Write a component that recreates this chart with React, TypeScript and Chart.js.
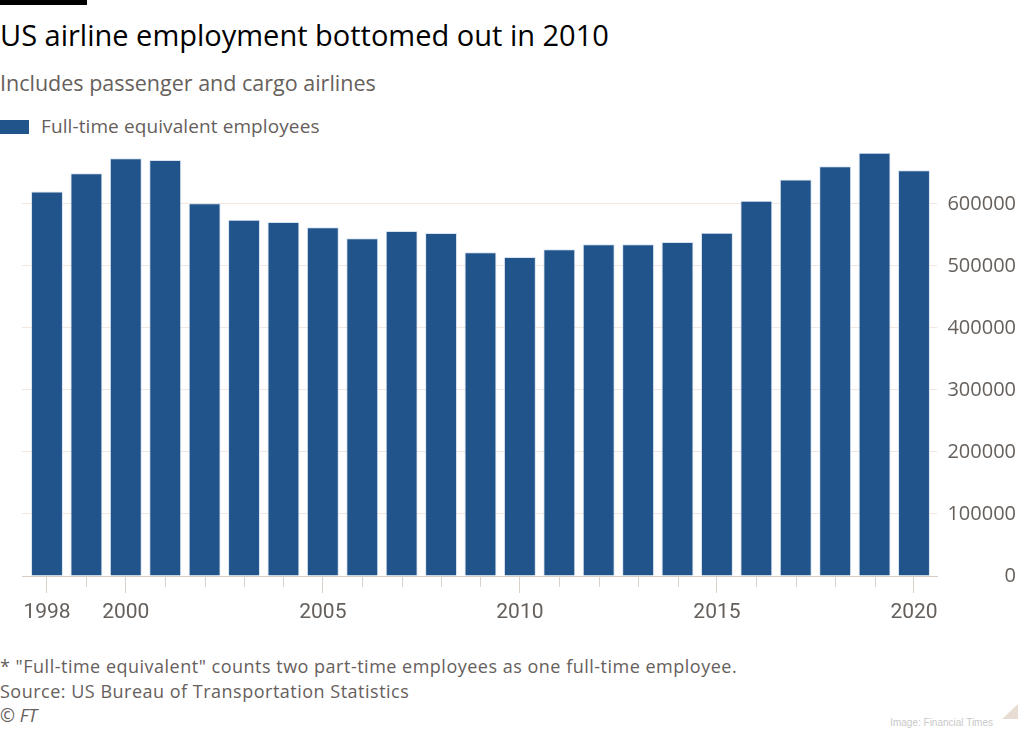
import React, { useEffect, useRef } from "react";
import { Chart, registerables } from "chart.js";

Chart.register(...registerables);

// ---- Data ----
const years = [
  1998, 1999, 2000, 2001, 2002, 2003, 2004, 2005, 2006, 2007, 2008, 2009,
  2010, 2011, 2012, 2013, 2014, 2015, 2016, 2017, 2018, 2019, 2020,
];
const employees = [
  619900, 649300, 673400, 670600, 601100, 574300, 570600, 562100, 544500,
  556200, 553000, 522000, 514400, 526800, 534800, 534800, 538500, 553500,
  604800, 639200, 660500, 682500, 654100,
];
const labeledYears = [1998, 2000, 2005, 2010, 2015, 2020];
const yTicks = [0, 100000, 200000, 300000, 400000, 500000, 600000];

const seriesLabel = "Full-time equivalent employees";
const titleText = "US airline employment bottomed out in 2010";
const subtitleText = "Includes passenger and cargo airlines";
const noteText =
  '* "Full-time equivalent" counts two part-time employees as one full-time employee.';
const sourceText = "Source: US Bureau of Transportation Statistics";

// ---- Styles ----
const BAR = "#20548b";
const TEXT = "#66605c";
const GRID = "#efe7e0";
const BASE = "#d8cdc3";
const TICK = "#d9d2cb";
const Y_FONT = { family: "Open Sans", size: 20 };

const minorTicks = {
  id: "minorTicks",
  afterDraw(chart: any) {
    const s = chart.scales.x;
    const ctx = chart.ctx;
    const bottom = chart.chartArea.bottom;
    ctx.save();
    ctx.strokeStyle = TICK;
    ctx.lineWidth = 1;
    s.ticks.forEach((t: any) => {
      if (!labeledYears.includes(t.value)) {
        const x = Math.round(s.getPixelForValue(t.value)) + 0.5;
        ctx.beginPath();
        ctx.moveTo(x, bottom);
        ctx.lineTo(x, bottom + 11);
        ctx.stroke();
      }
    });
    ctx.restore();
  },
};

export default function App() {
  const ref = useRef<HTMLCanvasElement | null>(null);

  useEffect(() => {
    if (!ref.current) return;
    const chart = new Chart(ref.current, {
      type: "bar",
      data: {
        datasets: [
          {
            label: seriesLabel,
            data: years.map((y, i) => ({ x: y, y: employees[i] })),
            backgroundColor: BAR,
            borderColor: "rgba(200,215,235,0.7)",
            borderWidth: 1,
            barPercentage: 0.81,
            categoryPercentage: 1,
          },
        ],
      },
      options: {
        responsive: false,
        animation: false,
        devicePixelRatio: 1,
        layout: { padding: { left: 22, top: 13, right: 8, bottom: 0 } },
        plugins: {
          legend: { display: false },
          tooltip: { enabled: false },
        },
        scales: {
          x: {
            type: "linear",
            offset: false,
            min: 1997.366,
            max: 2020.584,
            z: 1,
            afterBuildTicks: (s: any) => {
              s.ticks = years.map((v) => ({ value: v }));
            },
            afterFit: (s: any) => {
              s.height = 54;
            },
            grid: {
              display: true,
              offset: false,
              drawOnChartArea: false,
              drawTicks: true,
              tickLength: 17,
              tickColor: (c: any) =>
                c.tick && labeledYears.includes(c.tick.value) ? TICK : "rgba(0,0,0,0)",
              color: TICK,
            },
            border: { display: true, color: BASE, width: 1 },
            ticks: {
              autoSkip: false,
              maxRotation: 0,
              padding: 7,
              color: TEXT,
              font: { family: "Roboto", size: 21 },
              callback: (v: any) => (labeledYears.includes(Number(v)) ? String(v) : ""),
            },
          },
          y: {
            position: "right",
            min: 0,
            max: 690000,
            afterBuildTicks: (s: any) => {
              s.ticks = yTicks.map((v) => ({ value: v }));
            },
            afterFit: (s: any) => {
              s.width = 79;
            },
            grid: { color: GRID, drawTicks: false, lineWidth: 1 },
            border: { display: false },
            ticks: {
              crossAlign: "far",
              padding: 6,
              color: TEXT,
              font: Y_FONT,
              callback: (v: any) => String(v),
            },
          },
        },
      },
      plugins: [minorTicks],
    } as any);
    return () => chart.destroy();
  }, []);

  const base: React.CSSProperties = {
    position: "absolute",
    left: 0,
    whiteSpace: "nowrap",
    fontFamily: "'Open Sans', sans-serif",
    lineHeight: 1,
  };

  return (
    <div
      style={{
        position: "fixed",
        left: 0,
        top: 0,
        width: 1024,
        height: 731,
        background: "#fff",
        overflow: "hidden",
      }}
    >
      <div style={{ position: "absolute", left: 0, top: 0, width: 87, height: 5, background: "#000" }} />
      <div style={{ ...base, top: 20, fontSize: 29, color: "#000" }}>{titleText}</div>
      <div style={{ ...base, top: 71.5, fontSize: 21.5, color: TEXT }}>{subtitleText}</div>
      <div style={{ position: "absolute", left: 0, top: 120, width: 29, height: 14, background: BAR }} />
      <div style={{ ...base, left: 41, top: 117, fontSize: 19, color: TEXT, letterSpacing: "0.1px" }}>
        {seriesLabel}
      </div>
      <canvas
        ref={ref}
        width={1024}
        height={500}
        style={{ position: "absolute", left: 0, top: 130, width: 1024, height: 500 }}
      />
      <div style={{ ...base, top: 657, fontSize: 18, color: TEXT, letterSpacing: "0.5px" }}>{noteText}</div>
      <div style={{ ...base, top: 681.5, fontSize: 18, color: TEXT, letterSpacing: "0.5px" }}>{sourceText}</div>
      <div style={{ ...base, top: 706, fontSize: 18, color: TEXT, fontStyle: "italic" }}>© FT</div>
      <div
        style={{
          ...base,
          left: "auto",
          right: 31,
          top: 718,
          fontSize: 10,
          color: "#c9c9c9",
          fontFamily: "'Liberation Sans', Arial, sans-serif",
        }}
      >
        Image: Financial Times
      </div>
      <div
        style={{
          position: "absolute",
          left: 1002,
          top: 704,
          width: 0,
          height: 0,
          borderLeft: "16px solid transparent",
          borderBottom: "15px solid #e8ddd3",
        }}
      />
    </div>
  );
}
